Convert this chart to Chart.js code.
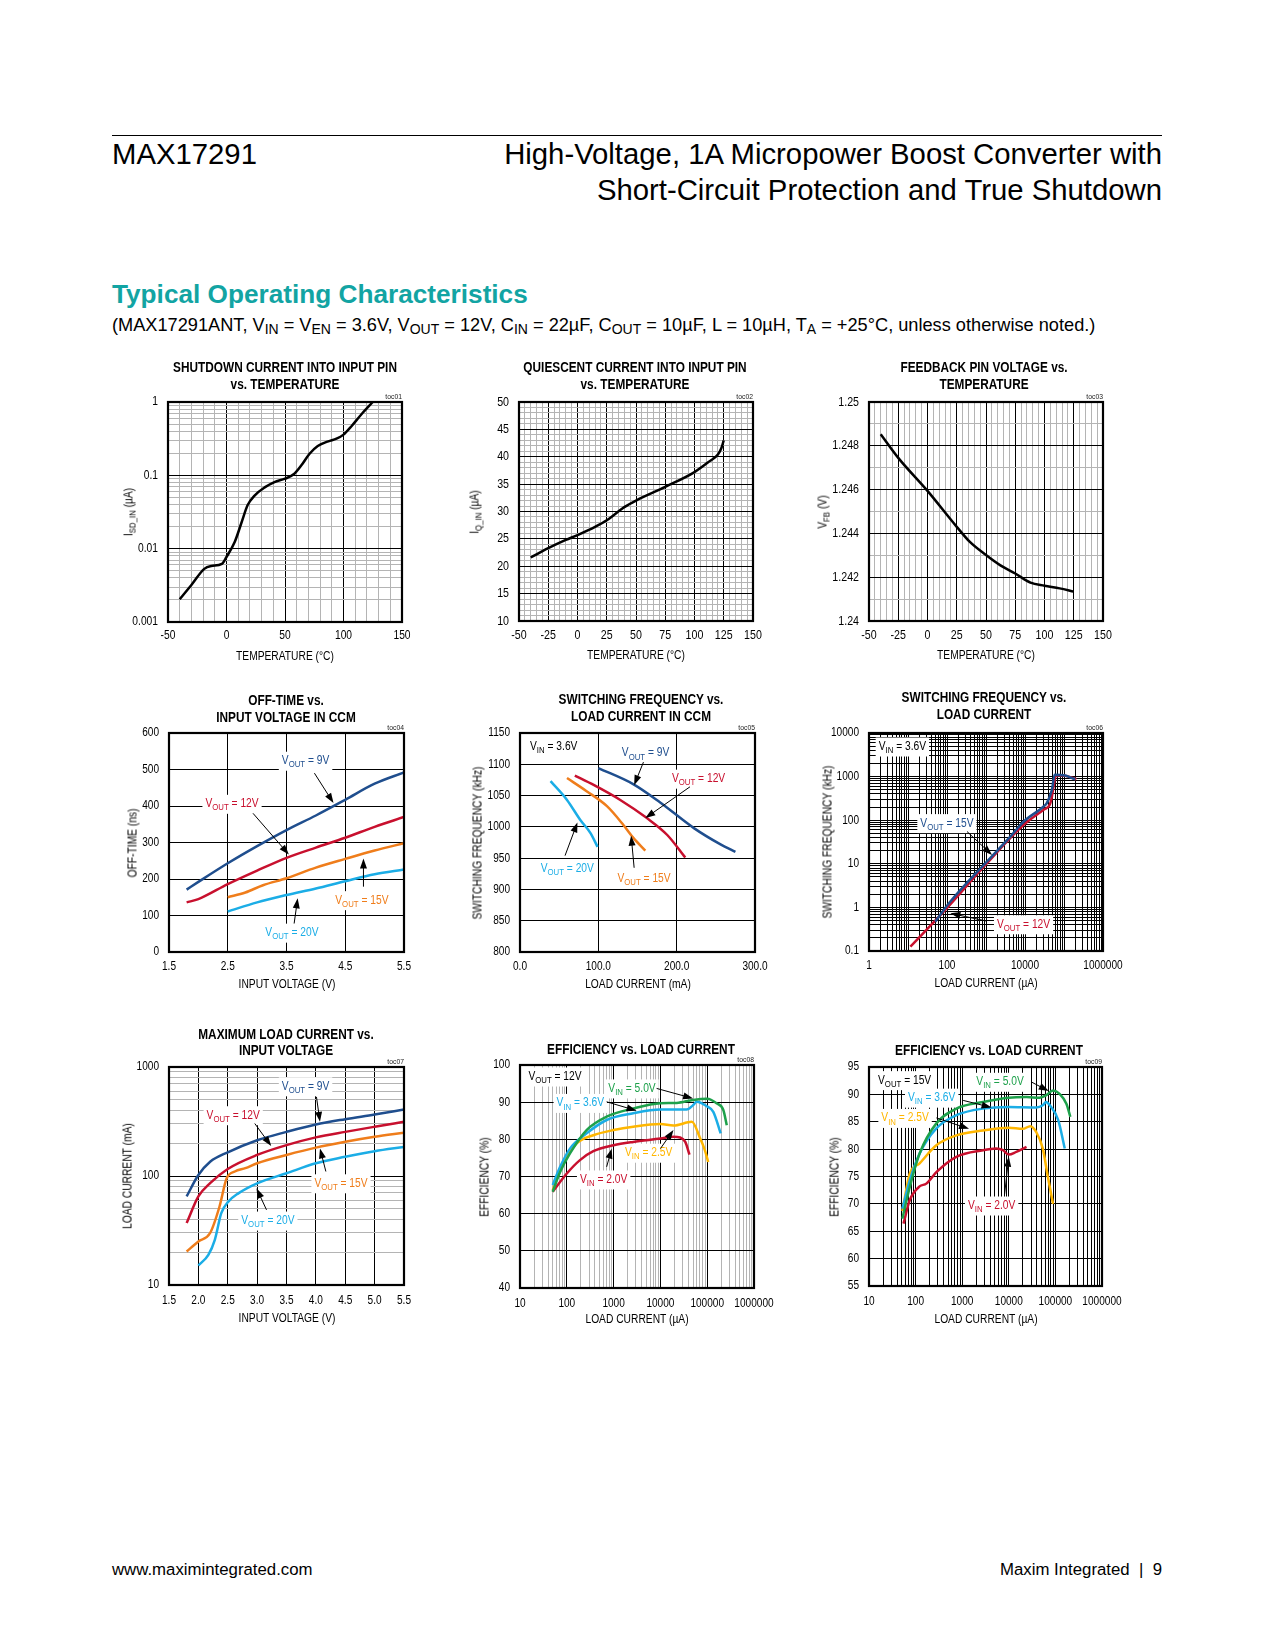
<!DOCTYPE html>
<html>
<head>
<meta charset="utf-8">
<title>MAX17291 Typical Operating Characteristics</title>
<script src="https://cdn.jsdelivr.net/npm/chart.js@4.4.1/dist/chart.umd.min.js"></script>
<style>
  html, body { margin: 0; padding: 0; background: #fff; }
  body { position: relative; width: 1275px; height: 1650px; overflow: hidden;
         font-family: "Liberation Sans", Arial, sans-serif; color: #000; }
  .abs { position: absolute; white-space: nowrap; }
  .rule { left: 112px; top: 135px; width: 1050px; border-top: 1px solid #000; }
  .part { left: 112px; top: 136px; font-size: 29.3px; line-height: 35px; }
  .doc { right: 113px; top: 136px; font-size: 29.3px; line-height: 35.5px; text-align: right; }
  .sect { left: 112px; top: 279px; font-size: 26.2px; line-height: 30px; font-weight: bold; color: #12a4a3; }
  .cond { left: 112px; top: 315px; font-size: 18.2px; line-height: 20px; }
  .cond sub { font-size: 14px; vertical-align: -3px; line-height: 0; }
  .foot { top: 1560px; font-size: 16.8px; line-height: 20px; }
  .ctitle { font-weight: bold; font-size: 14px; line-height: 16.5px; text-align: center;
            transform: translateX(-50%) scaleX(0.845); }
  .atitle { font-size: 12.5px; line-height: 15px; transform: translate(-50%, -50%) scaleX(0.82); }
  .atitle.rot { transform: translate(-50%, -50%) rotate(-90deg) scaleX(0.82); }
  .atitle sub { font-size: 9.5px; vertical-align: -3px; line-height: 0; }
  .toc { font-size: 8px; line-height: 9px; color: #222; transform: translateX(-100%) scaleX(0.85); transform-origin: right; }
  canvas { position: absolute; }
</style>
</head>
<body>
<div class="abs rule"></div>
<div class="abs part">MAX17291</div>
<div class="abs doc">High-Voltage, 1A Micropower Boost Converter with<br>Short-Circuit Protection and True Shutdown</div>
<div class="abs sect">Typical Operating Characteristics</div>
<div class="abs cond">(MAX17291ANT, V<sub>IN</sub> = V<sub>EN</sub> = 3.6V, V<sub>OUT</sub> = 12V, C<sub>IN</sub> = 22µF, C<sub>OUT</sub> = 10µF, L = 10µH, T<sub>A</sub> = +25°C, unless otherwise noted.)</div>
<div class="abs foot" style="left:112px">www.maximintegrated.com</div>
<div class="abs foot" style="right:113px">Maxim Integrated&nbsp; |&nbsp; 9</div>

<script>
// ---- colours
const BLUE = "#1f4e8e", RED = "#c8102e", ORANGE = "#ef7d1b", CYAN = "#1badE6", GREEN = "#1ea14b", YELLOW = "#ffb600";
const SANS = "'Liberation Sans', Arial, sans-serif";
const SQUEEZE = 0.82;

// ---- toc01 : shutdown current vs temperature
const sdTemp = [-40, -30, -19, -13, -4, 0, 7, 13, 18, 24, 33, 41, 50, 58, 64, 71, 78, 87, 94, 100, 107, 115, 125];
const sdCurr = [0.00204, 0.0032, 0.0053, 0.0058, 0.0062, 0.0077, 0.0123, 0.0231, 0.039, 0.053, 0.069, 0.081, 0.090, 0.105, 0.137, 0.197, 0.251, 0.291, 0.316, 0.359, 0.471, 0.671, 1.0];
const t1xTicks = [-50, 0, 50, 100, 150];
const t1xText = ["-50", "0", "50", "100", "150"];
const t1yTicks = [0.001, 0.01, 0.1, 1];
const t1yText = ["0.001", "0.01", "0.1", "1"];

// ---- toc02 : quiescent current vs temperature
const qTemp = [-40, -25, -10, 0, 15, 25, 40, 50, 75, 100, 113, 120, 123, 125];
const qCurr = [21.6, 23.3, 24.8, 25.7, 27.2, 28.4, 30.8, 32.0, 34.5, 37.2, 39.2, 40.4, 41.6, 43.0];
const tempTicks = [-50, -25, 0, 25, 50, 75, 100, 125, 150];
const tempText = ["-50", "-25", "0", "25", "50", "75", "100", "125", "150"];
const t2yTicks = [10, 15, 20, 25, 30, 35, 40, 45, 50];
const t2yText = ["10", "15", "20", "25", "30", "35", "40", "45", "50"];

// ---- toc03 : feedback voltage vs temperature
const fbTemp = [-40, -25, 0, 25, 36, 50, 62, 75, 88, 100, 113, 125];
const fbVolt = [1.24853, 1.24745, 1.24594, 1.2443, 1.24362, 1.24301, 1.24255, 1.24217, 1.24175, 1.24161, 1.24149, 1.24134];
const t3yTicks = [1.24, 1.242, 1.244, 1.246, 1.248, 1.25];
const t3yText = ["1.24", "1.242", "1.244", "1.246", "1.248", "1.25"];

// ---- toc04 : off-time vs input voltage
const otVin = [1.8, 2.0, 2.5, 3.0, 3.5, 4.0, 4.5, 5.0, 5.5];
const otNs9 = [171, 192, 243, 290, 334, 374, 417, 461, 492];
const otNs12 = [136, 145, 186, 223, 258, 286, 313, 343, 370];
const otVin15 = [2.5, 2.8, 3.1, 3.5, 4.0, 4.5, 5.0, 5.5];
const otNs15 = [150, 163, 183, 202, 231, 255, 278, 298];
const otVin20 = [2.5, 3.0, 3.5, 4.0, 4.5, 5.0, 5.5];
const otNs20 = [111, 136, 156, 174, 194, 213, 226];
const t4xTicks = [1.5, 2.5, 3.5, 4.5, 5.5];
const t4xText = ["1.5", "2.5", "3.5", "4.5", "5.5"];
const t4yTicks = [0, 100, 200, 300, 400, 500, 600];
const t4yText = ["0", "100", "200", "300", "400", "500", "600"];

// ---- toc05 : switching frequency vs load current in CCM
const sf9Load = [100, 145, 179, 222, 256, 275];
const sf9Freq = [1094, 1068, 1039, 998, 972, 960];
const sf12Load = [70, 94, 128, 162, 188, 211];
const sf12Freq = [1082, 1067, 1043, 1014, 987, 951];
const sf15Load = [60, 85, 111, 132, 145, 160];
const sf15Freq = [1078, 1057, 1033, 1003, 982, 962];
const sf20Load = [39, 60, 77, 90, 99];
const sf20Freq = [1073, 1043, 1011, 990, 968];
const t5xTicks = [0, 100, 200, 300];
const t5xText = ["0.0", "100.0", "200.0", "300.0"];
const t5yTicks = [800, 850, 900, 950, 1000, 1050, 1100, 1150];
const t5yText = ["800", "850", "900", "950", "1000", "1050", "1100", "1150"];

// ---- toc06 : switching frequency vs load current (log-log)
const fs15Load = [50, 122, 1060, 4200, 9250, 30000, 36300, 49000, 57700, 98000, 195000];
const fs15Freq = [0.47, 1.36, 11.3, 42, 93, 206, 246, 500, 1100, 1070, 870];
const fs12Load = [11.5, 82, 1060, 9250, 30000, 43000, 49000, 56700, 62400, 98000, 207000];
const fs12Freq = [0.126, 0.8, 10.3, 78, 174, 225, 351, 776, 1070, 1060, 870];
const t6xTicks = [1, 100, 10000, 1000000];
const t6xText = ["1", "100", "10000", "1000000"];
const t6yTicks = [0.1, 1, 10, 100, 1000, 10000];
const t6yText = ["0.1", "1", "10", "100", "1000", "10000"];

// ---- toc07 : maximum load current vs input voltage
const mlVin = [1.8, 2.0, 2.2, 2.5, 3.0, 3.5, 4.0, 4.5, 5.0, 5.5];
const mlI9 = [65, 102, 135, 165, 213, 254, 297, 332, 366, 407];
const mlI12 = [37, 65, 86, 116, 156, 192, 226, 254, 283, 314];
const mlVin15 = [1.8, 2.0, 2.2, 2.36, 2.48, 2.62, 2.8, 3.0, 3.5, 4.0, 4.5, 5.0, 5.5];
const mlI15 = [20.3, 25.1, 30, 52.5, 95, 110, 118, 131, 156, 182, 206, 229, 249];
const mlVin20 = [2.0, 2.17, 2.28, 2.39, 2.51, 2.68, 3.0, 3.5, 4.0, 4.5, 5.0, 5.5];
const mlI20 = [15.1, 18.9, 26, 45.6, 58.2, 69.3, 85.7, 106, 131, 150, 169, 185];
const t7xTicks = [1.5, 2.0, 2.5, 3.0, 3.5, 4.0, 4.5, 5.0, 5.5];
const t7xText = ["1.5", "2.0", "2.5", "3.0", "3.5", "4.0", "4.5", "5.0", "5.5"];
const t7yTicks = [10, 100, 1000];
const t7yText = ["10", "100", "1000"];

// ---- toc08 : efficiency, VOUT = 12V
const e12Load5 = [50, 72, 117, 265, 710, 2630, 10000, 22400, 50000, 100000, 158000, 221000, 262000];
const e12Eff5 = [65.9, 71.2, 76.2, 82.5, 86.1, 88.3, 89.7, 89.8, 90.6, 90.9, 89.7, 87.9, 83.8];
const e12Load36 = [50, 72, 117, 265, 710, 2630, 10000, 36300, 50000, 59600, 98000, 135000, 194000];
const e12Eff36 = [67.7, 72.6, 77.5, 81.6, 85.2, 87.0, 88.0, 88.0, 89.2, 90.1, 88.9, 87.4, 81.6];
const e12Load25 = [50, 84, 162, 369, 1000, 2630, 10000, 19000, 47000, 71000, 89000, 105000];
const e12Eff25 = [66.3, 73.5, 78.9, 81.1, 82.5, 83.4, 84.1, 83.7, 84.7, 80.2, 77.1, 73.9];
const e12Load20 = [50, 100, 191, 369, 1000, 2630, 10000, 19000, 26300, 34000, 41800];
const e12Eff20 = [65.9, 70.8, 74.4, 76.8, 78.4, 79.3, 80.2, 80.7, 80.5, 79.3, 75.9];
const effXTicks = [10, 100, 1000, 10000, 100000, 1000000];
const effXText = ["10", "100", "1000", "10000", "100000", "1000000"];
const t8yTicks = [40, 50, 60, 70, 80, 90, 100];
const t8yText = ["40", "50", "60", "70", "80", "90", "100"];

// ---- toc09 : efficiency, VOUT = 15V
const e15Load5 = [52, 75, 122, 279, 748, 2790, 10000, 24000, 45700, 63000, 89000, 123000, 172000, 209000];
const e15Eff5 = [67.3, 73.1, 79.2, 84.7, 87.4, 88.6, 89.4, 89.5, 89.4, 89.8, 90.7, 90.1, 88.3, 85.9];
const e15Load36 = [52, 75, 122, 279, 748, 2790, 10000, 38900, 53700, 63000, 75900, 115000, 159000];
const e15Eff36 = [69.1, 74.3, 79.2, 83.8, 86.2, 87.4, 87.7, 87.6, 88.0, 88.6, 88.0, 85.3, 80.1];
const e15Load25 = [52, 75, 122, 279, 748, 2790, 10000, 20000, 28800, 38900, 53700, 69000, 89000];
const e15Eff25 = [68.7, 75.5, 77.4, 80.7, 82.5, 83.4, 83.9, 83.7, 84.2, 83.1, 80.1, 74.9, 70.0];
const e15Load20 = [55, 75, 122, 170, 279, 748, 2790, 5370, 7500, 10000, 14500, 24000];
const e15Eff20 = [66.4, 70.7, 73.2, 73.7, 75.8, 78.6, 79.8, 80.1, 79.8, 79.0, 79.5, 80.4];
const t9yTicks = [55, 60, 65, 70, 75, 80, 85, 90, 95];
const t9yText = ["55", "60", "65", "70", "75", "80", "85", "90", "95"];

// ---- helpers
function pts(xs, ys) {
  return xs.map((x, i) => ({ x: x, y: ys[i] }));
}

function series(xs, ys, color) {
  return {
    data: pts(xs, ys),
    borderColor: color,
    borderWidth: 2.5,
    pointRadius: 0,
    fill: false,
    cubicInterpolationMode: "monotone"
  };
}

function gridValues(ax) {
  const out = [];
  if (ax.log) {
    const e0 = Math.floor(Math.log10(ax.min)), e1 = Math.ceil(Math.log10(ax.max));
    for (let e = e0; e <= e1; e++) {
      for (let k = 1; k <= 9; k++) {
        const v = parseFloat((k * Math.pow(10, e)).toPrecision(10));
        if (v >= ax.min * 0.999999 && v <= ax.max * 1.000001) out.push(v);
      }
    }
  } else if (ax.step) {
    const n = Math.round((ax.max - ax.min) / ax.step);
    for (let i = 0; i <= n; i++) out.push(parseFloat((ax.min + i * ax.step).toPrecision(10)));
  } else {
    return ax.ticks.slice();
  }
  return out;
}

function tickIndex(ax, v) {
  return ax.ticks.findIndex(t => Math.abs(t - v) <= 1e-9 * Math.max(1, Math.abs(t)));
}

function axisCfg(ax, isY) {
  return {
    type: ax.log ? "logarithmic" : "linear",
    min: ax.min,
    max: ax.max,
    afterBuildTicks: s => { s.ticks = gridValues(ax).map(v => ({ value: v })); },
    afterFit: s => { if (isY) s.width = 70; else s.height = 40; },
    border: { display: false },
    grid: {
      drawTicks: false,
      lineWidth: 1,
      color: c => (c.tick && tickIndex(ax, c.tick.value) >= 0) ? "#000" : ax.minor
    },
    ticks: { display: false, autoSkip: false }
  };
}

// condensed text: Liberation Sans squeezed horizontally (no narrow face installed)
function narrowText(ctx, s, x, y, size, align) {
  ctx.save();
  ctx.translate(x, y);
  ctx.scale(SQUEEZE, 1);
  ctx.font = size + "px " + SANS;
  ctx.textAlign = align;
  ctx.textBaseline = "middle";
  ctx.fillText(s, 0, 0);
  ctx.restore();
}

function splitSub(t) {
  const parts = [];
  const re = /_\{([^}]*)\}/g;
  let last = 0, m;
  while ((m = re.exec(t))) {
    if (m.index > last) parts.push({ s: t.slice(last, m.index), sub: false });
    parts.push({ s: m[1], sub: true });
    last = re.lastIndex;
  }
  if (last < t.length) parts.push({ s: t.slice(last), sub: false });
  return parts;
}

// tick labels drawn condensed
function tickPlugin(p) {
  return {
    id: "ticklabels",
    afterDraw(chart) {
      const ctx = chart.ctx, a = chart.chartArea, xs = chart.scales.x, ys = chart.scales.y;
      ctx.save();
      ctx.fillStyle = "#000";
      p.x.ticks.forEach((v, i) => narrowText(ctx, p.x.text[i], xs.getPixelForValue(v), a.bottom + p.xGap, p.size, "center"));
      p.y.ticks.forEach((v, i) => narrowText(ctx, p.y.text[i], a.left - 10, ys.getPixelForValue(v), p.size, "right"));
      ctx.restore();
    }
  };
}

// labels and arrows placed in data coordinates
function notesPlugin(notes, arrows) {
  const MAIN = 12.5, SUB = 9.5;
  return {
    id: "notes",
    beforeDatasetsDraw(chart) {
      const ctx = chart.ctx, xs = chart.scales.x, ys = chart.scales.y;
      ctx.save();
      notes.forEach(n => {
        const px = xs.getPixelForValue(n.x), py = ys.getPixelForValue(n.y);
        const parts = splitSub(n.t);
        let w = 0;
        parts.forEach(p => {
          ctx.font = (p.sub ? SUB : MAIN) + "px " + SANS;
          p.w = ctx.measureText(p.s).width * SQUEEZE;
          w += p.w;
        });
        ctx.fillStyle = "#fff";
        ctx.fillRect(px - 3, py - 9, w + 6, 19);
        ctx.fillStyle = n.c;
        let cx = px;
        parts.forEach(p => {
          narrowText(ctx, p.s, cx, py + (p.sub ? 4 : 0), p.sub ? SUB : MAIN, "left");
          cx += p.w;
        });
      });
      ctx.restore();
    },
    afterDatasetsDraw(chart) {
      const ctx = chart.ctx, xs = chart.scales.x, ys = chart.scales.y;
      ctx.save();
      ctx.strokeStyle = "#000";
      ctx.fillStyle = "#000";
      ctx.lineWidth = 1;
      arrows.forEach(a => {
        const x0 = xs.getPixelForValue(a[0][0]), y0 = ys.getPixelForValue(a[0][1]);
        const x1 = xs.getPixelForValue(a[1][0]), y1 = ys.getPixelForValue(a[1][1]);
        const ang = Math.atan2(y1 - y0, x1 - x0);
        ctx.beginPath();
        ctx.moveTo(x0, y0);
        ctx.lineTo(x1 - 6 * Math.cos(ang), y1 - 6 * Math.sin(ang));
        ctx.stroke();
        ctx.beginPath();
        ctx.moveTo(x1, y1);
        ctx.lineTo(x1 - 10 * Math.cos(ang) + 3.5 * Math.sin(ang), y1 - 10 * Math.sin(ang) - 3.5 * Math.cos(ang));
        ctx.lineTo(x1 - 10 * Math.cos(ang) - 3.5 * Math.sin(ang), y1 - 10 * Math.sin(ang) + 3.5 * Math.cos(ang));
        ctx.closePath();
        ctx.fill();
      });
      ctx.restore();
    }
  };
}

const framePlugin = {
  id: "frame",
  afterDraw(chart) {
    const a = chart.chartArea, ctx = chart.ctx;
    ctx.save();
    ctx.strokeStyle = "#000";
    ctx.lineWidth = 2.2;
    ctx.strokeRect(a.left, a.top, a.right - a.left, a.bottom - a.top);
    ctx.restore();
  }
};

function addText(cls, html, left, top) {
  const d = document.createElement("div");
  d.className = "abs " + cls;
  d.innerHTML = html;
  d.style.left = left + "px";
  d.style.top = top + "px";
  document.body.appendChild(d);
}

function plot(p) {
  const [L, T, R, B] = p.rect;
  const cv = document.createElement("canvas");
  const w = (R - L) + 115, h = (B - T) + 60;
  cv.width = w; cv.height = h;
  cv.style.left = (L - 70) + "px";
  cv.style.top = (T - 20) + "px";
  cv.style.width = w + "px";
  cv.style.height = h + "px";
  document.body.appendChild(cv);

  addText("ctitle", p.title, p.titleX, p.titleTop);
  addText("atitle", p.xTitle, (L + R) / 2, B + p.xTitleGap);
  addText("atitle rot", p.yTitle, p.yTitleX, (T + B) / 2);
  addText("toc", p.toc, R, T - 10);

  new Chart(cv, {
    type: "line",
    data: { datasets: p.series },
    options: {
      responsive: false,
      animation: false,
      events: [],
      layout: { padding: { left: 0, top: 20, right: 45, bottom: 0 } },
      plugins: { legend: { display: false }, tooltip: { enabled: false }, title: { display: false } },
      scales: { x: axisCfg(p.x, false), y: axisCfg(p.y, true) }
    },
    plugins: [notesPlugin(p.notes, p.arrows), tickPlugin(p), framePlugin]
  });
}

// ---- build the nine panels
plot({
  rect: [168, 402, 402, 622], size: 12.5, xGap: 14, xTitleGap: 34, toc: "toc01",
  title: "SHUTDOWN CURRENT INTO INPUT PIN<br>vs. TEMPERATURE", titleX: 285, titleTop: 359,
  xTitle: "TEMPERATURE (°C)", yTitle: "I<sub>SD_IN</sub> (µA)", yTitleX: 129,
  x: { min: -50, max: 150, step: 10, ticks: t1xTicks, text: t1xText, minor: "#b4b4b4" },
  y: { min: 0.001, max: 1, log: true, ticks: t1yTicks, text: t1yText, minor: "#b4b4b4" },
  series: [series(sdTemp, sdCurr, "#000")],
  notes: [], arrows: []
});

plot({
  rect: [519, 402, 753, 621], size: 13, xGap: 14.5, xTitleGap: 34, toc: "toc02",
  title: "QUIESCENT CURRENT INTO INPUT PIN<br>vs. TEMPERATURE", titleX: 635, titleTop: 359,
  xTitle: "TEMPERATURE (°C)", yTitle: "I<sub>Q_IN</sub> (µA)", yTitleX: 475,
  x: { min: -50, max: 150, step: 5, ticks: tempTicks, text: tempText, minor: "#b4b4b4" },
  y: { min: 10, max: 50, step: 1, ticks: t2yTicks, text: t2yText, minor: "#b4b4b4" },
  series: [series(qTemp, qCurr, "#000")],
  notes: [], arrows: []
});

plot({
  rect: [869, 402, 1103, 621], size: 13, xGap: 14.5, xTitleGap: 34, toc: "toc03",
  title: "FEEDBACK PIN VOLTAGE vs.<br>TEMPERATURE", titleX: 984, titleTop: 359,
  xTitle: "TEMPERATURE (°C)", yTitle: "V<sub>FB</sub> (V)", yTitleX: 823,
  x: { min: -50, max: 150, step: 5, ticks: tempTicks, text: tempText, minor: "#b4b4b4" },
  y: { min: 1.24, max: 1.25, step: 0.001, ticks: t3yTicks, text: t3yText, minor: "#b4b4b4" },
  series: [series(fbTemp, fbVolt, "#000")],
  notes: [], arrows: []
});

plot({
  rect: [169, 733, 404, 952], size: 12.3, xGap: 15, xTitleGap: 32, toc: "toc04",
  title: "OFF-TIME vs.<br>INPUT VOLTAGE IN CCM", titleX: 286, titleTop: 692,
  xTitle: "INPUT VOLTAGE (V)", yTitle: "OFF-TIME (ns)", yTitleX: 133,
  x: { min: 1.5, max: 5.5, ticks: t4xTicks, text: t4xText, minor: "#000" },
  y: { min: 0, max: 600, ticks: t4yTicks, text: t4yText, minor: "#000" },
  series: [series(otVin, otNs9, BLUE), series(otVin, otNs12, RED), series(otVin15, otNs15, ORANGE), series(otVin20, otNs20, CYAN)],
  notes: [
    { t: "V_{OUT} = 9V", x: 3.42, y: 524, c: BLUE },
    { t: "V_{OUT} = 12V", x: 2.12, y: 406, c: RED },
    { t: "V_{OUT} = 15V", x: 4.33, y: 142, c: ORANGE },
    { t: "V_{OUT} = 20V", x: 3.14, y: 53, c: CYAN }
  ],
  arrows: [
    [[3.975, 490], [4.30, 408]],
    [[2.93, 380], [3.54, 267]],
    [[4.81, 179], [4.81, 256]],
    [[3.63, 78], [3.69, 147]]
  ]
});

plot({
  rect: [520, 733, 755, 952], size: 12.3, xGap: 15, xTitleGap: 32, toc: "toc05",
  title: "SWITCHING FREQUENCY vs.<br>LOAD CURRENT IN CCM", titleX: 641, titleTop: 691,
  xTitle: "LOAD CURRENT (mA)", yTitle: "SWITCHING FREQUENCY (kHz)", yTitleX: 478,
  x: { min: 0, max: 300, ticks: t5xTicks, text: t5xText, minor: "#000" },
  y: { min: 800, max: 1150, ticks: t5yTicks, text: t5yText, minor: "#000" },
  series: [series(sf9Load, sf9Freq, BLUE), series(sf12Load, sf12Freq, RED), series(sf15Load, sf15Freq, ORANGE), series(sf20Load, sf20Freq, CYAN)],
  notes: [
    { t: "V_{IN} = 3.6V", x: 12.8, y: 1128.6, c: "#000" },
    { t: "V_{OUT} = 9V", x: 130, y: 1118, c: BLUE },
    { t: "V_{OUT} = 12V", x: 194, y: 1077, c: RED },
    { t: "V_{OUT} = 20V", x: 26.4, y: 933.5, c: CYAN },
    { t: "V_{OUT} = 15V", x: 124.4, y: 917.5, c: ORANGE }
  ],
  arrows: [
    [[157.6, 1103.5], [145.7, 1066.6]],
    [[217, 1064], [160, 1014]],
    [[57.5, 954], [73.3, 1007]],
    [[145.7, 934.6], [141.9, 985.9]]
  ]
});

plot({
  rect: [869, 733, 1103, 951], size: 12.3, xGap: 15, xTitleGap: 32, toc: "toc06",
  title: "SWITCHING FREQUENCY vs.<br>LOAD CURRENT", titleX: 984, titleTop: 689,
  xTitle: "LOAD CURRENT (µA)", yTitle: "SWITCHING FREQUENCY (kHz)", yTitleX: 828,
  x: { min: 1, max: 1000000, log: true, ticks: t6xTicks, text: t6xText, minor: "#000" },
  y: { min: 0.1, max: 10000, log: true, ticks: t6yTicks, text: t6yText, minor: "#000" },
  series: [series(fs15Load, fs15Freq, BLUE), series(fs12Load, fs12Freq, RED)],
  notes: [
    { t: "V_{IN} = 3.6V", x: 1.77, y: 4900, c: "#000" },
    { t: "V_{OUT} = 15V", x: 20.7, y: 85.7, c: BLUE },
    { t: "V_{OUT} = 12V", x: 1910, y: 0.41, c: RED }
  ],
  arrows: [
    [[326, 55], [1426, 16]],
    [[1000, 0.49], [122, 0.73]]
  ]
});

plot({
  rect: [169, 1067, 404, 1285], size: 12.3, xGap: 16, xTitleGap: 33, toc: "toc07",
  title: "MAXIMUM LOAD CURRENT vs.<br>INPUT VOLTAGE", titleX: 286, titleTop: 1025.5,
  xTitle: "INPUT VOLTAGE (V)", yTitle: "LOAD CURRENT (mA)", yTitleX: 128,
  x: { min: 1.5, max: 5.5, ticks: t7xTicks, text: t7xText, minor: "#000" },
  y: { min: 10, max: 1000, log: true, ticks: t7yTicks, text: t7yText, minor: "#b4b4b4" },
  series: [series(mlVin, mlI9, BLUE), series(mlVin, mlI12, RED), series(mlVin15, mlI15, ORANGE), series(mlVin20, mlI20, CYAN)],
  notes: [
    { t: "V_{OUT} = 9V", x: 3.42, y: 665, c: BLUE },
    { t: "V_{OUT} = 12V", x: 2.14, y: 361, c: RED },
    { t: "V_{OUT} = 15V", x: 3.975, y: 85.7, c: ORANGE },
    { t: "V_{OUT} = 20V", x: 2.73, y: 39, c: CYAN }
  ],
  arrows: [
    [[4.01, 532], [4.07, 314]],
    [[2.96, 303], [3.24, 188]],
    [[4.17, 110], [4.07, 179]],
    [[3.16, 48.9], [2.99, 77]]
  ]
});

plot({
  rect: [520, 1065, 754, 1288], size: 12.3, xGap: 16, xTitleGap: 31, toc: "toc08",
  title: "EFFICIENCY vs. LOAD CURRENT", titleX: 641, titleTop: 1041,
  xTitle: "LOAD CURRENT (µA)", yTitle: "EFFICIENCY (%)", yTitleX: 485,
  x: { min: 10, max: 1000000, log: true, ticks: effXTicks, text: effXText, minor: "#b4b4b4" },
  y: { min: 40, max: 100, ticks: t8yTicks, text: t8yText, minor: "#000" },
  series: [series(e12Load5, e12Eff5, GREEN), series(e12Load36, e12Eff36, CYAN), series(e12Load25, e12Eff25, YELLOW), series(e12Load20, e12Eff20, RED)],
  notes: [
    { t: "V_{OUT} = 12V", x: 15.1, y: 96.9, c: "#000" },
    { t: "V_{IN} = 5.0V", x: 771, y: 93.7, c: GREEN },
    { t: "V_{IN} = 3.6V", x: 60.6, y: 89.8, c: CYAN },
    { t: "V_{IN} = 2.5V", x: 1750, y: 76.4, c: YELLOW },
    { t: "V_{IN} = 2.0V", x: 191, y: 69.2, c: RED }
  ],
  arrows: [
    [[8300, 93.7], [50000, 91.0]],
    [[710, 90.1], [3100, 87.7]],
    [[10000, 77.5], [19000, 82.5]],
    [[710, 72.6], [910, 77.5]]
  ]
});

plot({
  rect: [869, 1067, 1102, 1286], size: 12.3, xGap: 16, xTitleGap: 33, toc: "toc09",
  title: "EFFICIENCY vs. LOAD CURRENT", titleX: 989, titleTop: 1042,
  xTitle: "LOAD CURRENT (µA)", yTitle: "EFFICIENCY (%)", yTitleX: 835,
  x: { min: 10, max: 1000000, log: true, ticks: effXTicks, text: effXText, minor: "#000" },
  y: { min: 55, max: 95, ticks: t9yTicks, text: t9yText, minor: "#000" },
  series: [series(e15Load5, e15Eff5, GREEN), series(e15Load36, e15Eff36, CYAN), series(e15Load25, e15Eff25, YELLOW), series(e15Load20, e15Eff20, RED)],
  notes: [
    { t: "V_{OUT} = 15V", x: 15.6, y: 92.6, c: "#000" },
    { t: "V_{IN} = 5.0V", x: 2010, y: 92.3, c: GREEN },
    { t: "V_{IN} = 3.6V", x: 68.7, y: 89.4, c: CYAN },
    { t: "V_{IN} = 2.5V", x: 18.4, y: 85.7, c: YELLOW },
    { t: "V_{IN} = 2.0V", x: 1330, y: 69.7, c: RED }
  ],
  arrows: [
    [[30000, 92.3], [72000, 90.6]],
    [[1050, 88.9], [4270, 87.6]],
    [[279, 85.7], [1400, 83.7]],
    [[8130, 71.8], [10000, 78.6]]
  ]
});
</script>
</body>
</html>
